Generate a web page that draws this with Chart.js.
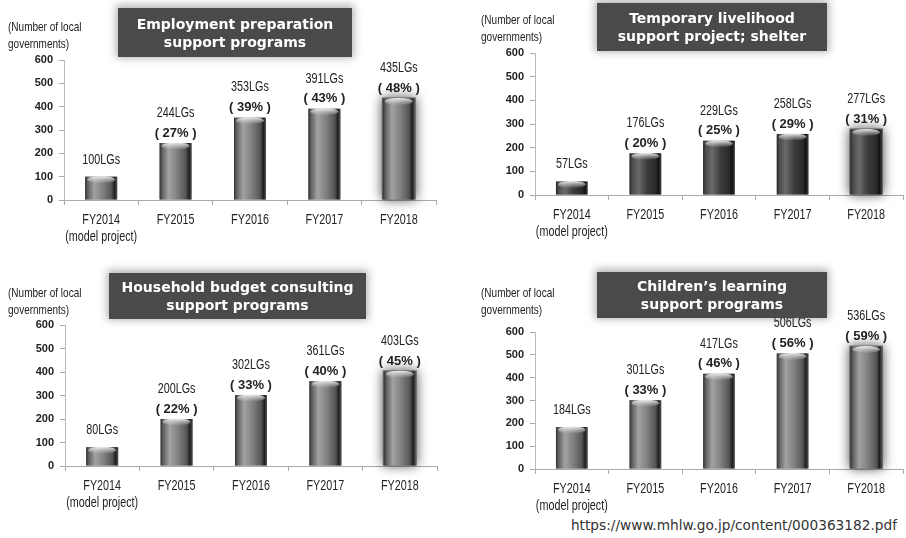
<!DOCTYPE html>
<html>
<head>
<meta charset="utf-8">
<script src="https://cdn.jsdelivr.net/npm/chart.js@4/dist/chart.umd.min.js"></script>
<style>
  body { margin: 0; background: #fff; width: 906px; height: 538px; position: relative; overflow: hidden; }
  .panel { position: absolute; }
  .panel canvas { position: absolute; left: 0; top: 0; }
  .unit { position: absolute; font: 13px "Liberation Sans", Arial, sans-serif; color: #222; line-height: 17px;
          white-space: nowrap; transform: scaleX(0.77); transform-origin: 0 0; }
  .title { position: absolute; background: #4a4a4a; color: #fff; font: bold 14px "DejaVu Sans", Verdana, sans-serif;
           text-align: center; line-height: 18px; box-shadow: 0 -1px 8px 2px rgba(0,0,0,0.3);
           display: flex; align-items: center; justify-content: center; }
  .src { position: absolute; right: 9px; top: 517px; font: 13.7px "DejaVu Sans", sans-serif; color: #333; }
</style>
</head>
<body>
<div class="src">https://www.mhlw.go.jp/content/000363182.pdf</div>
<script>
const categories = [["FY2014", "(model project)"], "FY2015", "FY2016", "FY2017", "FY2018"];
const yTicks = [0, 100, 200, 300, 400, 500, 600];

// counts of local governments and share of all of them (%)
const employmentCounts = [100, 244, 353, 391, 435];
const employmentShares = [null, 27, 39, 43, 48];
const shelterCounts = [57, 176, 229, 258, 277];
const shelterShares = [null, 20, 25, 29, 31];
const budgetCounts = [80, 200, 302, 361, 403];
const budgetShares = [null, 22, 33, 40, 45];
const learningCounts = [184, 301, 417, 506, 536];
const learningShares = [null, 33, 46, 56, 59];

const sans = '"Liberation Sans", Arial, sans-serif';

const lightBar = [[0, "#2e2e2e"], [0.07, "#5c5c5c"], [0.28, "#a2a2a2"], [0.55, "#808080"], [0.82, "#555"], [0.92, "#1e1e1e"], [1, "#555"]];
const darkBar = [[0, "#222"], [0.07, "#4a4a4a"], [0.28, "#6a6a6a"], [0.55, "#3c3c3c"], [0.82, "#2a2a2a"], [0.92, "#111"], [1, "#444"]];

const panels = [
  { left: 0, top: 0, w: 453, h: 265, area: [64, 60, 436, 200], title: "Employment preparation<br>support programs",
    box: [118, 8, 234, 49], unit: [8, 18], counts: employmentCounts, shares: employmentShares, stops: lightBar },
  { left: 455, top: 0, w: 451, h: 265, area: [80, 53, 448, 195], title: "Temporary livelihood<br>support project; shelter",
    box: [142, 3, 230, 48], unit: [26, 11], counts: shelterCounts, shares: shelterShares, stops: darkBar },
  { left: 0, top: 265, w: 453, h: 273, area: [65, 60, 437, 201], title: "Household budget consulting<br>support programs",
    box: [109, 8, 257, 46], unit: [8, 19], counts: budgetCounts, shares: budgetShares, stops: lightBar },
  { left: 455, top: 265, w: 451, h: 273, area: [80, 67, 448, 204], title: "Children\u2019s learning<br>support programs",
    box: [142, 7, 230, 46], unit: [26, 19], counts: learningCounts, shares: learningShares, stops: lightBar },
];

// condensed text: no narrow face is installed, so squeeze the regular one
function narrowText(ctx, text, x, y) {
  ctx.save();
  ctx.translate(x, y);
  ctx.scale(0.77, 1);
  ctx.fillText(text, 0, 0);
  ctx.restore();
}

// cylinder look for the bars, plus a soft halo behind the last one
const barLook = {
  id: "barLook",
  beforeDatasetsDraw(chart) {
    const bars = chart.getDatasetMeta(0).data;
    const last = bars[bars.length - 1];
    const ctx = chart.ctx;
    ctx.save();
    ctx.shadowColor = "rgba(0,0,0,0.7)";
    ctx.shadowBlur = 12;
    ctx.fillStyle = "#666";
    ctx.fillRect(last.x - last.width / 2 - 1, last.y - 1, last.width + 2, last.base - last.y + 1);
    ctx.restore();
  },
  afterDatasetsDraw(chart, args, opts) {
    const ctx = chart.ctx;
    ctx.save();
    chart.getDatasetMeta(0).data.forEach((bar) => {
      const l = bar.x - bar.width / 2, w = bar.width, t = bar.y, h = bar.base - bar.y;
      const g = ctx.createLinearGradient(l, 0, l + w, 0);
      opts.stops.forEach(([p, c]) => g.addColorStop(p, c));
      ctx.fillStyle = g;
      ctx.fillRect(l, t, w, h);
      // lighter rim on the top
      const cg = ctx.createLinearGradient(0, t, 0, t + 7);
      cg.addColorStop(0, "rgba(235,235,235,0.95)");
      cg.addColorStop(1, "rgba(200,200,200,0)");
      ctx.fillStyle = cg;
      ctx.beginPath();
      ctx.ellipse(bar.x, t + 3, w / 2 - 2, 3.5, 0, 0, 2 * Math.PI);
      ctx.fill();
    });
    ctx.restore();
  },
};

// "xxxLGs" and "(yy%)" above each bar, category names under the axis
const barLabels = {
  id: "barLabels",
  afterDatasetsDraw(chart, args, opts) {
    const ctx = chart.ctx;
    const ds = chart.data.datasets[0];
    const xs = chart.scales.x;
    ctx.save();
    ctx.textAlign = "center";
    ctx.textBaseline = "middle";
    ctx.fillStyle = "#222";
    chart.getDatasetMeta(0).data.forEach((bar, i) => {
      const share = opts.shares[i];
      ctx.font = "14px " + sans;
      if (share == null) {
        narrowText(ctx, ds.data[i] + "LGs", bar.x, bar.y - 17);
      } else {
        narrowText(ctx, ds.data[i] + "LGs", bar.x, bar.y - 30);
        ctx.font = "bold 13px " + sans;
        ctx.fillText("( " + share + "% )", bar.x, bar.y - 10);
      }
    });
    ctx.font = "14px " + sans;
    chart.data.labels.forEach((lab, i) => {
      const x = xs.getPixelForValue(i);
      [].concat(lab).forEach((line, j) => narrowText(ctx, line, x, xs.top + 20 + j * 17));
    });
    ctx.restore();
  },
};

panels.forEach((p) => {
  const div = document.createElement("div");
  div.className = "panel";
  div.style.cssText = `left:${p.left}px;top:${p.top}px;width:${p.w}px;height:${p.h}px`;
  div.innerHTML = `<canvas width="${p.w}" height="${p.h}"></canvas>
    <div class="unit" style="left:${p.unit[0]}px;top:${p.unit[1]}px">(Number of local<br>governments)</div>
    <div class="title" style="left:${p.box[0]}px;top:${p.box[1]}px;width:${p.box[2]}px;height:${p.box[3]}px">${p.title}</div>`;
  document.body.appendChild(div);

  const [L, T, R, B] = p.area;
  new Chart(div.querySelector("canvas"), {
    type: "bar",
    data: {
      labels: categories,
      datasets: [{ data: p.counts, backgroundColor: "#777", categoryPercentage: 1, barPercentage: 0.43 }],
    },
    options: {
      responsive: false,
      animation: false,
      layout: { padding: { left: L - 40, top: T, right: p.w - R, bottom: p.h - B - 45 } },
      plugins: {
        legend: { display: false },
        tooltip: { enabled: false },
        barLook: { stops: p.stops },
        barLabels: { shares: p.shares },
      },
      scales: {
        x: {
          grid: { drawOnChartArea: false, tickLength: 5, color: "#aaa" },
          border: { color: "#aaa" },
          ticks: { display: false },
          afterFit(s) { s.height = 45; },
        },
        y: {
          min: 0,
          max: yTicks[yTicks.length - 1],
          afterBuildTicks(s) { s.ticks = yTicks.map((v) => ({ value: v })); },
          grid: { drawOnChartArea: false, tickLength: 5, color: "#aaa" },
          border: { color: "#bbb" },
          ticks: { font: { family: sans, size: 11, weight: "bold" }, color: "#222", padding: 6 },
          afterFit(s) { s.width = 40; },
        },
      },
    },
    plugins: [barLook, barLabels],
  });
});
</script>
</body>
</html>
